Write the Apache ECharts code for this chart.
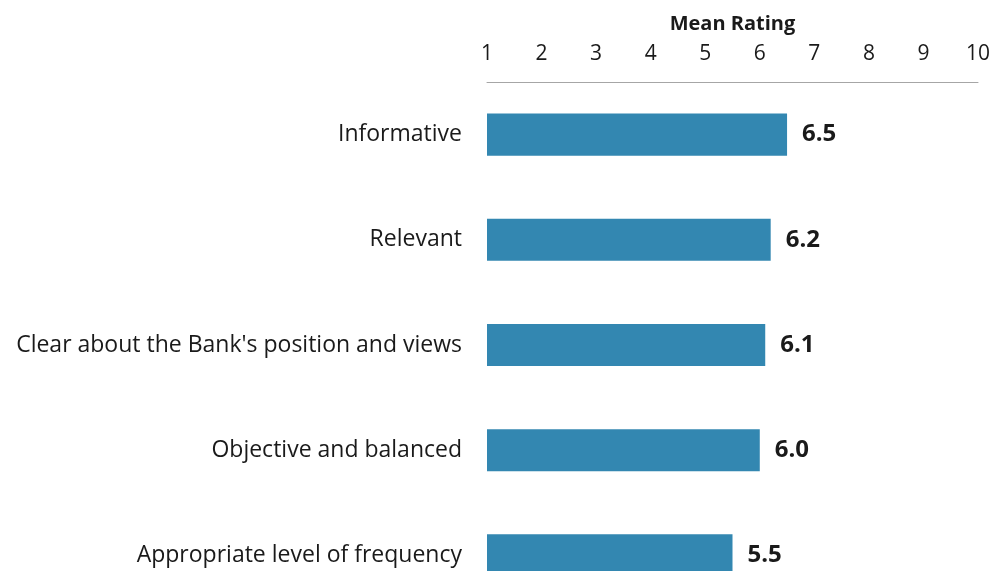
<!DOCTYPE html>
<html>
<head>
<meta charset="utf-8">
<style>
  html, body { margin: 0; padding: 0; background: #ffffff; overflow: hidden; }
  /* the plot runs past the bottom edge of the window, so the last bar is cut off */
  #chart { width: 995px; height: 608px; }
</style>
<script src="https://cdn.jsdelivr.net/npm/echarts@6/dist/echarts.min.js"></script>
</head>
<body>
<div id="chart"></div>
<script>
// Survey attributes and their mean ratings (scale 1-10)
const categories = [
  'Informative',
  'Relevant',
  "Clear about the Bank's position and views",
  'Objective and balanced',
  'Appropriate level of frequency'
];
const meanRatings = [6.5, 6.2, 6.1, 6.0, 5.5];
const axisTicks = [1, 2, 3, 4, 5, 6, 7, 8, 9, 10];

const FONT = '"Open Sans", "Noto Sans", sans-serif';
const TEXT = '#1a1a1a';

const chart = echarts.init(document.getElementById('chart'), null, { renderer: 'canvas' });

chart.setOption({
  animation: false,
  backgroundColor: '#ffffff',
  grid: {
    left: 487,
    top: 82,
    width: 491,
    bottom: 0,
    containLabel: false
  },
  xAxis: {
    type: 'value',
    position: 'top',
    min: axisTicks[0],
    max: axisTicks[axisTicks.length - 1],
    interval: 1,
    name: 'Mean Rating',
    nameLocation: 'middle',
    nameGap: 48,
    nameTextStyle: {
      fontFamily: FONT,
      fontSize: 20,
      fontWeight: 'bold',
      color: TEXT
    },
    axisLine: { show: true, lineStyle: { color: '#a6a6a6', width: 1 } },
    axisTick: { show: false },
    splitLine: { show: false },
    axisLabel: {
      margin: 17,
      fontFamily: FONT,
      fontSize: 21,
      color: TEXT
    }
  },
  yAxis: {
    type: 'category',
    data: categories,
    inverse: true,
    axisLine: { show: false },
    axisTick: { show: false },
    axisLabel: {
      margin: 25,
      fontFamily: FONT,
      fontSize: 23,
      color: TEXT
    }
  },
  series: [{
    type: 'bar',
    data: meanRatings,
    barWidth: '40%',
    itemStyle: { color: '#3387b1' },
    label: {
      show: true,
      position: 'right',
      distance: 15,
      formatter: p => p.value.toFixed(1),
      fontFamily: FONT,
      fontSize: 24,
      fontWeight: 'bold',
      color: TEXT
    }
  }]
});
</script>
</body>
</html>
